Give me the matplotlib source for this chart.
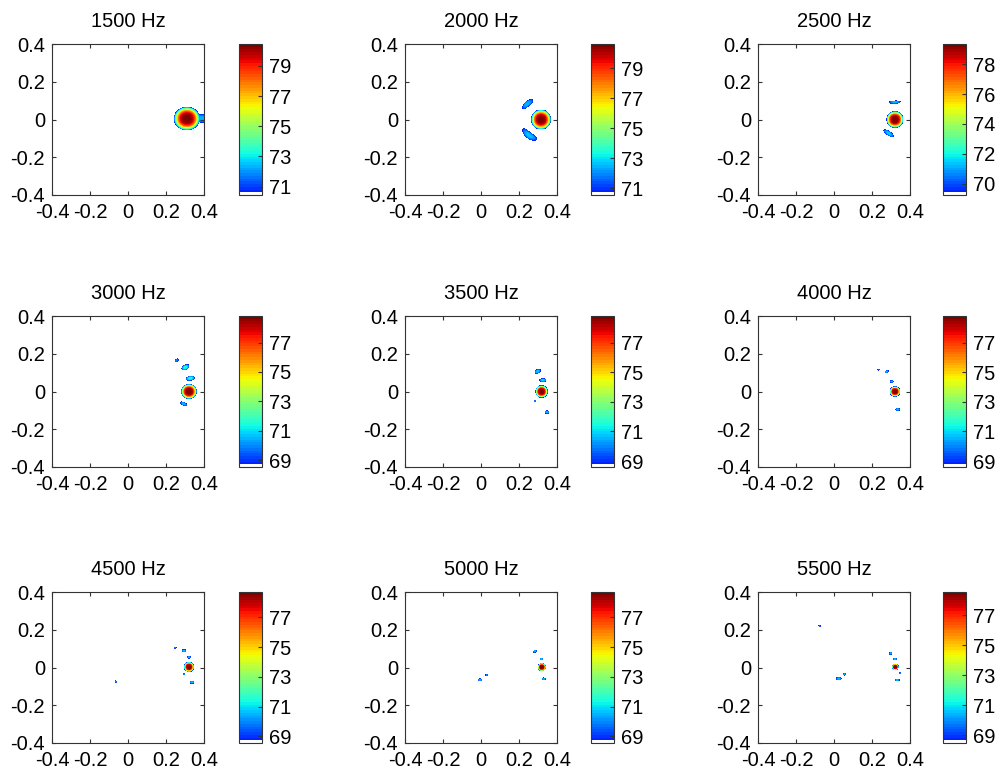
import numpy as np
import matplotlib
matplotlib.use("Agg")
import matplotlib.pyplot as plt
from matplotlib.colors import ListedColormap

plt.rcParams['font.family'] = ['Liberation Sans', 'DejaVu Sans']
plt.rcParams['axes.unicode_minus'] = False

# ---------------- data ----------------
FREQS = [1500, 2000, 2500, 3000, 3500, 4000, 4500, 5000, 5500]
CB_MIN = [70.45, 70.55, 69.25, 68.55, 68.6, 68.6, 68.55, 68.55, 68.5]
CB_MAX = [80.45, 80.6, 79.35, 78.8, 78.8, 78.8, 78.7, 78.7, 78.55]
CB_TICKS = [[71, 73, 75, 77, 79], [71, 73, 75, 77, 79], [70, 72, 74, 76, 78],
            [69, 71, 73, 75, 77], [69, 71, 73, 75, 77], [69, 71, 73, 75, 77],
            [69, 71, 73, 75, 77], [69, 71, 73, 75, 77], [69, 71, 73, 75, 77]]
AX_TICKS = [-0.4, -0.2, 0, 0.2, 0.4]
AX_TICKLABELS = ['-0.4', '-0.2', '0', '0.2', '0.4']

# main lobe: x, y, half-width, half-height (visible extent)
MAIN_LOBES = [(0.310, 0.005, 0.066, 0.060), (0.316, 0.000, 0.050, 0.050),
              (0.321, 0.000, 0.042, 0.042), (0.321, 0.000, 0.039, 0.037),
              (0.319, 0.000, 0.030, 0.030), (0.321, 0.000, 0.025, 0.025),
              (0.321, 0.003, 0.024, 0.024), (0.320, 0.002, 0.019, 0.019),
              (0.323, 0.003, 0.015, 0.015)]

# side lobes (ellipses): x, y, half-width, half-height, angle (deg), dB above threshold
SIDE_LOBES = [
    [(0.395, 0.006, 0.055, 0.020, 0, 1.8)],
    [],
    [(0.320, 0.092, 0.028, 0.006, 3, 1.8), (0.288, -0.073, 0.030, 0.009, -35, 2.0)],
    [(0.256, 0.165, 0.010, 0.005, 35, 1.2), (0.302, 0.128, 0.020, 0.011, 30, 2.8),
     (0.328, 0.070, 0.022, 0.010, 10, 2.8), (0.293, -0.065, 0.018, 0.006, -25, 1.8)],
    [(0.298, 0.107, 0.015, 0.008, 30, 2.0), (0.326, 0.060, 0.016, 0.007, 0, 2.2),
     (0.284, -0.051, 0.004, 0.003, 0, 1.2), (0.347, -0.109, 0.010, 0.006, 0, 1.8)],
    [(0.235, 0.116, 0.004, 0.002, 0, 1.2), (0.277, 0.105, 0.009, 0.004, 30, 1.8),
     (0.304, 0.053, 0.008, 0.004, 0, 1.8), (0.335, -0.095, 0.010, 0.005, 0, 1.8)],
    [(0.249, 0.105, 0.004, 0.003, 0, 1.2), (0.295, 0.089, 0.010, 0.005, 0, 1.8),
     (0.321, 0.054, 0.008, 0.004, 0, 1.8), (0.295, -0.035, 0.005, 0.002, -45, 1.2),
     (0.337, -0.078, 0.010, 0.005, 0, 1.8), (-0.063, -0.075, 0.006, 0.002, -50, 1.2)],
    [(0.284, 0.086, 0.008, 0.004, 30, 1.8), (0.318, 0.045, 0.007, 0.003, 0, 1.8),
     (0.330, -0.060, 0.008, 0.004, 0, 1.8), (-0.005, -0.065, 0.010, 0.004, 0, 1.8),
     (0.030, -0.040, 0.004, 0.003, 0, 1.2)],
    [(-0.076, 0.220, 0.003, 0.002, 0, 1.2), (0.298, 0.075, 0.006, 0.004, 45, 1.8),
     (0.321, 0.045, 0.008, 0.004, 0, 1.8), (0.348, -0.030, 0.004, 0.002, 45, 1.2),
     (0.333, -0.066, 0.010, 0.004, 0, 1.8), (0.025, -0.059, 0.012, 0.006, 0, 1.8),
     (0.055, -0.036, 0.005, 0.004, 0, 1.8)],
]

# side lobes (arcs around main lobe): cx, cy, radius, centre angle, half span (deg), half thickness, dB above threshold
SIDE_ARCS = [[], [(0.316, 0.0, 0.110, 131, 18, 0.012, 1.8), (0.316, 0.0, 0.105, 233, 25, 0.015, 2.0)],
             [], [], [], [], [], [], []]

# ---------------- figure ----------------
W, H = 999, 776
fig = plt.figure(figsize=(W / 100, H / 100), dpi=100)

AX_LEFT = [52, 405, 758]
CB_LEFT = [239, 591, 943]
ROW_TOP = [44, 316, 592]
AX_W, AX_H, CB_W = 152, 151, 23

jet = plt.get_cmap('jet', 64)
colors = [(1, 1, 1, 1)] + [jet(i) for i in range(10, 64)]
cmap = ListedColormap(colors)
ncol = len(colors)

g = np.linspace(-0.4, 0.4, 481)
X, Y = np.meshgrid(g, g)

FS = 14.5

for k, f in enumerate(FREQS):
    r, c = divmod(k, 3)
    vmin, vmax = CB_MIN[k], CB_MAX[k]
    thr = vmin + (vmax - vmin) / ncol
    Z = np.full_like(X, vmin - 1.0)

    mx, my, ma, mb = MAIN_LOBES[k]
    d = np.sqrt(((X - mx) / ma) ** 2 + ((Y - my) / mb) ** 2)
    Z = np.maximum(Z, thr + (vmax - thr) * (1 - d ** 3))

    for (sx, sy, sa, sb, ang, h) in SIDE_LOBES[k]:
        t = np.deg2rad(ang)
        u = (X - sx) * np.cos(t) + (Y - sy) * np.sin(t)
        v = -(X - sx) * np.sin(t) + (Y - sy) * np.cos(t)
        d = np.sqrt((u / sa) ** 2 + (v / sb) ** 2)
        Z = np.maximum(Z, thr + h * (1 - d ** 2))

    for (cx, cy, R, th0, hs, hw, h) in SIDE_ARCS[k]:
        rr = np.hypot(X - cx, Y - cy)
        th = np.rad2deg(np.arctan2(Y - cy, X - cx)) % 360
        dth = (th - th0 + 180) % 360 - 180
        d = np.sqrt(((rr - R) / hw) ** 2 + (dth / hs) ** 2)
        Z = np.maximum(Z, thr + h * (1 - d ** 2))

    Z = np.clip(Z, vmin, vmax)

    ax = fig.add_axes([AX_LEFT[c] / W, 1 - (ROW_TOP[r] + AX_H) / H, AX_W / W, AX_H / H])
    levels = np.linspace(vmin, vmax, ncol + 1)
    cs = ax.contourf(X, Y, Z, levels=levels, cmap=cmap)
    ax.set_xlim(-0.4, 0.4)
    ax.set_ylim(-0.4, 0.4)
    ax.set_xticks(AX_TICKS)
    ax.set_yticks(AX_TICKS)
    ax.set_xticklabels(AX_TICKLABELS)
    ax.set_yticklabels(AX_TICKLABELS)
    ax.tick_params(direction='in', top=True, right=True, length=3, width=0.8,
                   labelsize=FS, colors='#333333', labelcolor='black')
    ax.tick_params(axis='x', pad=6)
    ax.tick_params(axis='y', pad=5)
    for s in ax.spines.values():
        s.set_color('#333333')
        s.set_linewidth(0.8)
    ax.set_title(f'{f} Hz', fontsize=FS, pad=12)

    cax = fig.add_axes([CB_LEFT[c] / W, 1 - (ROW_TOP[r] + AX_H) / H, CB_W / W, AX_H / H])
    cb = fig.colorbar(cs, cax=cax, ticks=CB_TICKS[k])
    cb.ax.set_yticklabels([str(t) for t in CB_TICKS[k]])
    cb.ax.tick_params(direction='in', length=3, width=0.8, labelsize=FS, pad=5,
                      colors='#333333', labelcolor='black')
    cb.outline.set_edgecolor('#333333')
    cb.outline.set_linewidth(0.8)

fig.savefig('out.png', dpi=100)
